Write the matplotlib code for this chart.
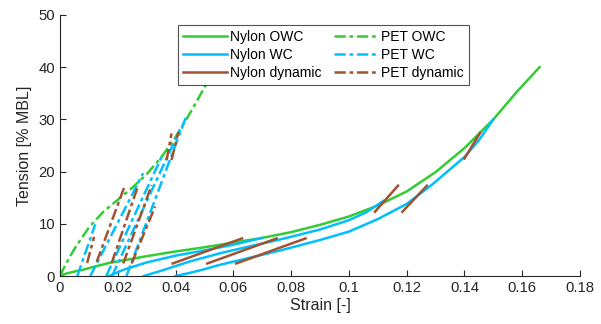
import matplotlib
matplotlib.use("Agg")
import matplotlib.pyplot as plt

plt.rcParams['font.family'] = ['Liberation Sans', 'DejaVu Sans']

GREEN = (0.2, 0.8, 0.2)
BLUE = (0.0, 0.75, 1.0)
BROWN = (0.63, 0.32, 0.18)

# ---- data ----
nylon_owc_strain = [0, 0.002, 0.005, 0.008, 0.012, 0.017, 0.023, 0.03, 0.04, 0.05, 0.06, 0.07,
                    0.08, 0.09, 0.1, 0.11, 0.12, 0.13, 0.14, 0.15, 0.158, 0.166]
nylon_owc_tension = [0, 0.45, 0.85, 1.2, 1.8, 2.5, 3.1, 3.8, 4.7, 5.5, 6.4, 7.3,
                     8.4, 9.8, 11.4, 13.5, 16.2, 19.9, 24.5, 30.0, 35.2, 40.0]

nylon_wc_strain = [
    [0.017, 0.022, 0.03, 0.04, 0.05, 0.06, 0.07],
    [0.029, 0.035, 0.045, 0.055, 0.065, 0.077, 0.09, 0.1, 0.106, 0.112],
    [0.040, 0.045, 0.05, 0.055, 0.065, 0.077, 0.09, 0.1, 0.11, 0.12, 0.129, 0.14, 0.145, 0.15],
]
nylon_wc_tension = [
    [0, 1.2, 2.6, 3.9, 4.9, 6.0, 7.3],
    [0, 1.0, 2.8, 4.3, 5.6, 7.1, 8.9, 10.7, 12.2, 14.4],
    [0, 0.6, 1.3, 2.1, 3.4, 5.0, 6.9, 8.5, 10.9, 13.8, 17.6, 22.8, 26.0, 30.0],
]

nylon_dyn_strain = [[0.039, 0.063], [0.051, 0.075], [0.061, 0.085],
                    [0.109, 0.117], [0.1185, 0.127], [0.140, 0.1454]]
nylon_dyn_tension = [[2.4, 7.2], [2.4, 7.2], [2.4, 7.2],
                     [12.3, 17.3], [12.3, 17.3], [22.5, 27.4]]

pet_owc_strain = [0, 0.002, 0.005, 0.01, 0.015, 0.02, 0.025, 0.030, 0.035,
                  0.04, 0.045, 0.0505]
pet_owc_tension = [0, 2.3, 5.2, 9.3, 12.3, 14.6, 16.9, 19.5, 22.7,
                   26.6, 31.2, 36.6]

pet_wc_strain = [[0.006, 0.0122], [0.0105, 0.0288], [0.016, 0.0355],
                 [0.018, 0.0415], [0.023, 0.0435]]
pet_wc_tension = [[0, 9.9], [0, 19.7], [0, 23.2], [0, 28.0], [0, 30.3]]

pet_dyn_strain = [[0.0094, 0.0118], [0.0127, 0.0225], [0.0179, 0.0271],
                  [0.0219, 0.0317], [0.0248, 0.0329], [0.0369, 0.0386], [0.0386, 0.041]]
pet_dyn_tension = [[2.5, 7.5], [2.7, 17.4], [2.5, 17.4],
                   [2.4, 17.4], [2.4, 13.3], [22.2, 27.3], [22.2, 27.6]]

x_ticks = [0, 0.02, 0.04, 0.06, 0.08, 0.1, 0.12, 0.14, 0.16, 0.18]
x_tick_labels = ['0', '0.02', '0.04', '0.06', '0.08', '0.1', '0.12', '0.14', '0.16', '0.18']
y_ticks = [0, 10, 20, 30, 40, 50]

# ---- figure ----
fig = plt.figure(figsize=(6.01, 3.24), dpi=100)
ax = fig.add_axes([60/601, 1-276/324, 520/601, 261/324])

LW = 1.8
DASHDOT = (0, (4.5, 1.5, 1.5, 1.5))

h1, = ax.plot(nylon_owc_strain, nylon_owc_tension, color=GREEN, lw=LW)
for i, (s, t) in enumerate(zip(nylon_wc_strain, nylon_wc_tension)):
    h = ax.plot(s, t, color=BLUE, lw=LW)[0]
    if i == 0:
        h2 = h
for i, (s, t) in enumerate(zip(nylon_dyn_strain, nylon_dyn_tension)):
    h = ax.plot(s, t, color=BROWN, lw=LW)[0]
    if i == 0:
        h3 = h
h4, = ax.plot(pet_owc_strain, pet_owc_tension, color=GREEN, lw=LW, linestyle=DASHDOT)
for i, (s, t) in enumerate(zip(pet_wc_strain, pet_wc_tension)):
    h = ax.plot(s, t, color=BLUE, lw=LW, linestyle=DASHDOT)[0]
    if i == 0:
        h5 = h
for i, (s, t) in enumerate(zip(pet_dyn_strain, pet_dyn_tension)):
    h = ax.plot(s, t, color=BROWN, lw=LW, linestyle=DASHDOT)[0]
    if i == 0:
        h6 = h

ax.set_xlim(0, 0.18)
ax.set_ylim(0, 50)
ax.set_xticks(x_ticks)
ax.set_xticklabels(x_tick_labels)
ax.set_yticks(y_ticks)
ax.tick_params(direction='in', length=4, width=0.8, labelsize=10.7, colors=(0.15, 0.15, 0.15))
for sp in ['top', 'right']:
    ax.spines[sp].set_visible(False)
for sp in ['left', 'bottom']:
    ax.spines[sp].set_color((0.15, 0.15, 0.15))
    ax.spines[sp].set_linewidth(0.8)

ax.set_xlabel('Strain [-]', fontsize=11.5, color=(0.15, 0.15, 0.15), labelpad=2)
ax.set_ylabel('Tension [% MBL]', fontsize=11.5, color=(0.15, 0.15, 0.15), labelpad=5)

leg = ax.legend([h1, h2, h3, h4, h5, h6],
                ['Nylon OWC', 'Nylon WC', 'Nylon dynamic', 'PET OWC', 'PET WC', 'PET dynamic'],
                ncol=2, loc='upper left', bbox_to_anchor=((178-60)/520, (276-25)/261),
                fontsize=10, frameon=True, fancybox=False, handlelength=3.2,
                handletextpad=0.2, columnspacing=0.9, labelspacing=0.3,
                borderpad=0.35, borderaxespad=0)
leg.get_frame().set_edgecolor((0.15, 0.15, 0.15))
leg.get_frame().set_linewidth(0.8)

fig.savefig('out.png', dpi=100)
